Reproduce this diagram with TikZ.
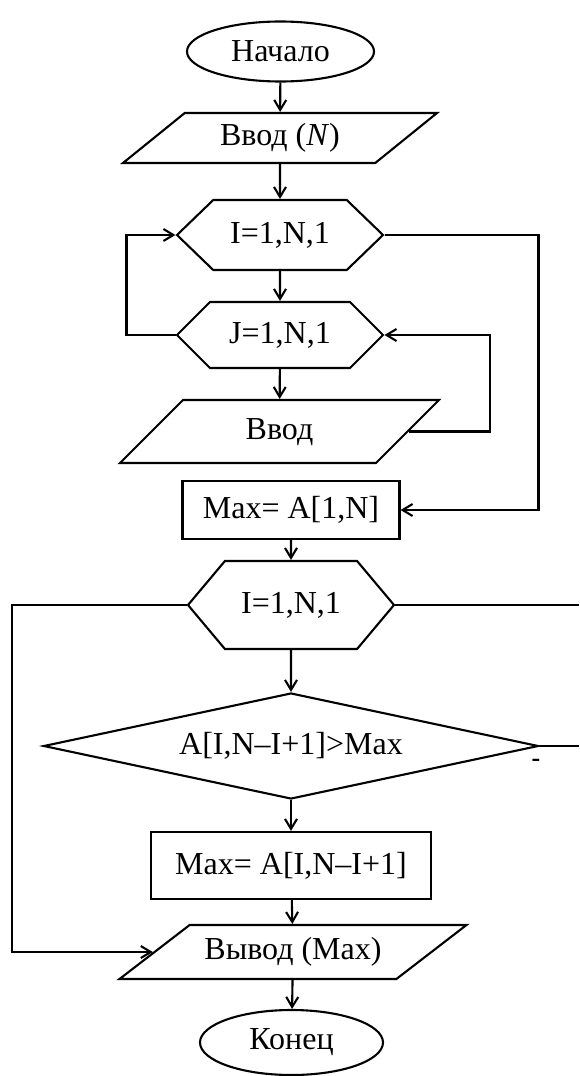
\documentclass[tikz,border=0pt]{standalone}
\usepackage{fontspec}
\setmainfont{Liberation Serif}
\usetikzlibrary{arrows.meta,positioning,shapes.geometric,shapes.symbols}

\begin{document}
\begin{tikzpicture}[x=1pt,y=-1pt,line width=2.1pt,
  every node/.style={font=\fontsize{32}{38}\selectfont,inner sep=2pt},
  term/.style={draw,ellipse,minimum width=187pt,minimum height=60pt},
  io/.style={draw,trapezium,trapezium stretches body,text height=22pt,text depth=7pt,
    trapezium left angle=#1,trapezium right angle=180-#1},
  cyc/.style={draw,signal,signal to=east and west,minimum width=206pt},
  proc/.style={draw,rectangle},
  cond/.style={draw,diamond,aspect=4.67,minimum width=495pt,minimum height=106pt},
  link/.style={-{Straight Barb[length=10pt,width=12pt]}}]
\useasboundingbox (0,0) rectangle (579,1076);
\coordinate (rim) at (579,0);
% upper part
\node[term] (S) at (280.5,51.5) {Начало};
\node[io=39,inner ysep=10.5pt,minimum width=314pt] (N) at (280,138) {Ввод (\textit{N})};
\node[cyc,signal pointer angle=88,minimum height=70pt] (H1) at (280,235) {I=1,N,1};
\node[cyc,signal pointer angle=90,minimum height=66pt] (H2) at (280,335) {J=1,N,1};
\node[io=45,inner ysep=17pt,minimum width=319pt] (R) at (279.5,431.5) {Ввод};
\node[proc,minimum width=217pt,minimum height=58pt] (M1) at (291,510) {Max= A[1,N]};
% lower part
\node[cyc,signal pointer angle=100,minimum height=88pt] (H3) at (291,605) {I=1,N,1};
\node[cond] (D) at (291,746) {A[I,N--I+1]>Max};
\node[font=\fontsize{26}{30}\selectfont\bfseries] (minus) at (536,763) {-};
\node[proc,minimum width=280pt,minimum height=67pt] (M2) at (291,865.5) {Max= A[I,N--I+1]};
\node[io=37.6,inner ysep=12.5pt,minimum width=347pt] (O) at (293,952) {Вывод (Max)};
\node[term,minimum width=183pt,minimum height=65pt] (E) at (291.5,1042.5) {Конец};

\draw[link] (S) -- (N);
\draw[link] (N) -- (H1);
\draw[link] (H1) -- (H2);
\draw[link] (H2) -- (R);
\draw[link] (H2.west) -- ++(-49,0) |- (H1.west);
\draw[link] (R.east) -- ++(81,0) |- (H2.east);
\draw[link] (H1.east) -- ++(154,0) |- (M1.east);
\draw[link] (M1) -- (H3);
\draw[link] (H3) -- (D);
\draw[link] (D) -- (M2);
\draw[link] (M2) -- (O);
\draw[link] (O) -- (E);
\draw[link] (H3.west) -- ++(-175,0) |- (O.west);
\draw (H3.east) -- (H3.east -| rim);
\draw (D.east) -- (D.east -| rim);
\end{tikzpicture}
\end{document}
